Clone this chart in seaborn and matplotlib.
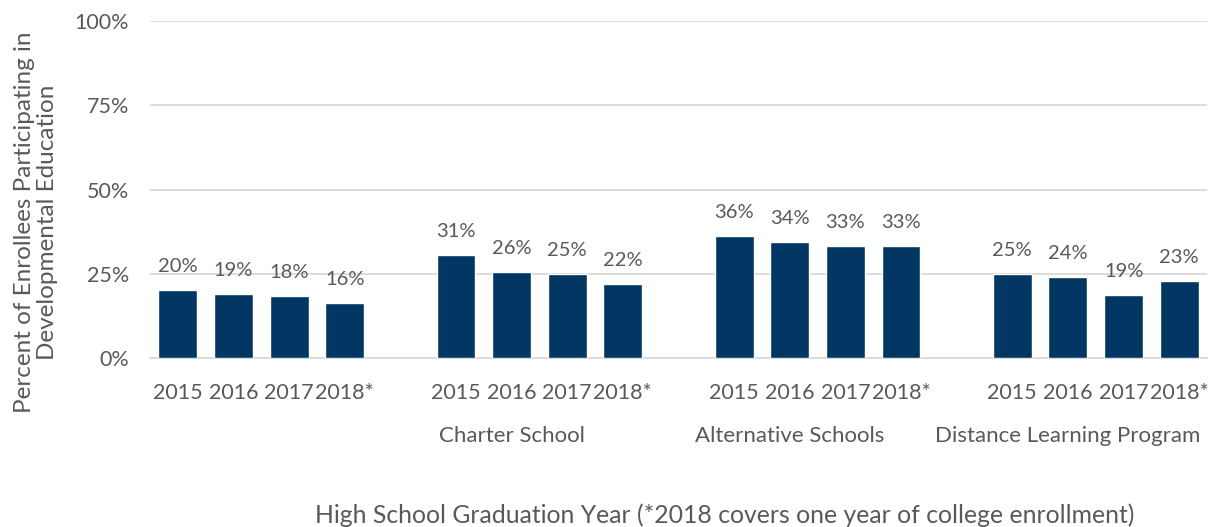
import numpy as np
import pandas as pd
import matplotlib
matplotlib.use("Agg")
import matplotlib.pyplot as plt
import matplotlib.transforms as mtransforms
import seaborn as sns

sns.set_style("white")
plt.rcParams['font.family'] = ['Lato', 'DejaVu Sans']

# data
groups = ["", "Charter School", "Alternative Schools", "Distance Learning Program"]
years = ["2015", "2016", "2017", "2018*"]
first_group = [20.2, 19.0, 18.4, 16.3]
charter = [30.6, 25.6, 25.0, 21.9]
alternative = [36.3, 34.3, 33.3, 33.3]
distance = [24.9, 24.0, 18.6, 22.9]
y_ticks = [0, 25, 50, 75, 100]

NAVY = "#023764"
GREY = "#595959"
GRID = "#d9d9d9"

rows = []
for g, (name, vals) in enumerate(zip(groups, [first_group, charter, alternative, distance])):
    for i, (yr, v) in enumerate(zip(years, vals)):
        rows.append({"group": name, "year": yr, "value": v, "slot": g * 5 + i})
df = pd.DataFrame(rows)

fig = plt.figure(figsize=(12.15, 5.27), dpi=100)
ax = fig.add_axes([150 / 1215, 1 - 358 / 527, (1207 - 150) / 1215, (358 - 21) / 527])

sns.barplot(data=df, x="slot", y="value", native_scale=True, color=NAVY,
            saturation=1, width=0.7, errorbar=None, ax=ax, zorder=3)

for _, r in df.iterrows():
    ax.annotate(f"{r.value:.0f}%", (r.slot, r.value), xytext=(0, 17),
                textcoords="offset points", ha="center", va="center",
                fontsize=14.5, color=GREY)

ax.set_xlim(-0.5, 18.5)
ax.set_ylim(0, 100)
ax.set_yticks(y_ticks)
ax.set_yticklabels([f"{t}%" for t in y_ticks])
ax.set_xticks(df["slot"])
ax.set_xticklabels(df["year"])
ax.tick_params(axis="both", length=0, labelsize=15.5, labelcolor=GREY)
ax.tick_params(axis="x", pad=18)
ax.tick_params(axis="y", pad=15)
ax.grid(axis="y", color=GRID, lw=1.3, zorder=0)
ax.set_axisbelow(True)
for s in ["top", "right", "left"]:
    ax.spines[s].set_visible(False)
ax.spines["bottom"].set_color(GRID)
ax.spines["bottom"].set_linewidth(1.3)
ax.set_xlabel("")
ax.set_ylabel("")

trans = mtransforms.blended_transform_factory(ax.transData, ax.transAxes)
for g, name in enumerate(groups):
    if name:
        ax.text(g * 5 + 1, -0.231, name, transform=trans, ha="center", va="center",
                fontsize=16, color=GREY)

fig.text(725 / 1215, 1 - 515 / 527,
         "High School Graduation Year (*2018 covers one year of college enrollment)",
         ha="center", va="center", fontsize=17.8, color=GREY)
fig.text(36 / 1215, 1 - 222 / 527,
         "Percent of Enrollees Participating in\nDevelopmental Education",
         ha="center", va="center", rotation=90, fontsize=17.5, color=GREY,
         linespacing=1.15)

fig.savefig("out.png", dpi=100)
